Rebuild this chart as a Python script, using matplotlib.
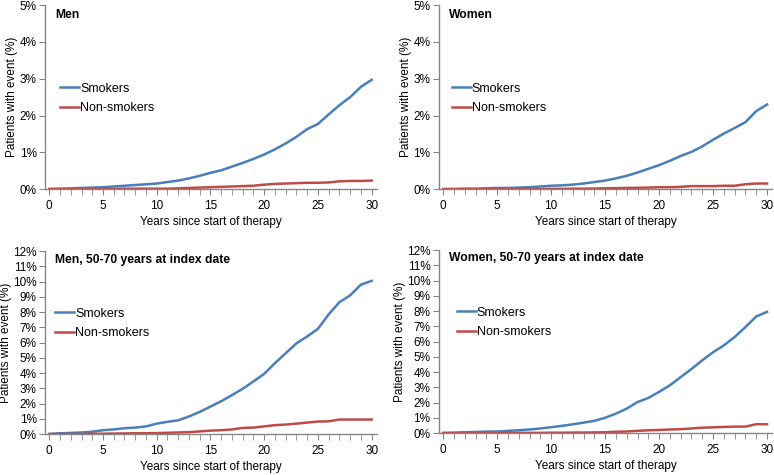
import matplotlib
matplotlib.use('Agg')
import matplotlib.pyplot as plt
from matplotlib.ticker import MultipleLocator, FuncFormatter
import numpy as np

plt.rcParams['font.family'] = ['Liberation Sans', 'DejaVu Sans']

years = list(range(31))

men_smokers = [0, 0.01, 0.02, 0.03, 0.04, 0.05, 0.07, 0.09, 0.11, 0.13, 0.15,
               0.19, 0.23, 0.29, 0.36, 0.44, 0.51, 0.61, 0.71, 0.82, 0.94,
               1.08, 1.24, 1.42, 1.63, 1.77, 2.03, 2.28, 2.50, 2.78, 2.97]
men_nonsmokers = [0, 0, 0, 0, 0, 0.005, 0.005, 0.01, 0.01, 0.01, 0.01,
                  0.01, 0.02, 0.03, 0.04, 0.05, 0.06, 0.07, 0.08, 0.09, 0.12,
                  0.14, 0.15, 0.16, 0.17, 0.17, 0.18, 0.21, 0.22, 0.22, 0.23]

women_smokers = [0, 0, 0.01, 0.01, 0.02, 0.03, 0.03, 0.04, 0.05, 0.07, 0.09,
                 0.10, 0.12, 0.15, 0.19, 0.23, 0.29, 0.36, 0.45, 0.55, 0.65,
                 0.77, 0.90, 1.01, 1.16, 1.34, 1.51, 1.66, 1.82, 2.12, 2.30]
women_nonsmokers = [0, 0, 0, 0, 0, 0, 0, 0, 0, 0, 0.005,
                    0.005, 0.01, 0.01, 0.015, 0.02, 0.025, 0.03, 0.035, 0.04, 0.05,
                    0.05, 0.06, 0.08, 0.08, 0.08, 0.09, 0.09, 0.13, 0.15, 0.15]

men5070_smokers = [0, 0.05, 0.07, 0.10, 0.15, 0.25, 0.30, 0.38, 0.42, 0.50, 0.68,
                   0.80, 0.90, 1.15, 1.45, 1.80, 2.15, 2.55, 2.97, 3.45, 3.95,
                   4.65, 5.30, 5.95, 6.40, 6.90, 7.85, 8.65, 9.10, 9.80, 10.05]
men5070_nonsmokers = [0, 0, 0, 0.01, 0.02, 0.02, 0.03, 0.04, 0.05, 0.05, 0.06,
                      0.08, 0.10, 0.12, 0.17, 0.22, 0.25, 0.30, 0.40, 0.42, 0.50,
                      0.58, 0.62, 0.68, 0.75, 0.82, 0.83, 0.95, 0.95, 0.95, 0.95]

women5070_smokers = [0, 0.02, 0.05, 0.07, 0.09, 0.10, 0.14, 0.18, 0.23, 0.30, 0.38,
                     0.47, 0.57, 0.68, 0.80, 1.00, 1.27, 1.60, 2.03, 2.30, 2.70,
                     3.13, 3.67, 4.20, 4.77, 5.30, 5.75, 6.30, 6.95, 7.65, 7.95]
women5070_nonsmokers = [0, 0, 0, 0, 0, 0, 0.01, 0.01, 0.01, 0.01, 0.02,
                        0.02, 0.03, 0.03, 0.04, 0.05, 0.08, 0.10, 0.14, 0.18, 0.20,
                        0.23, 0.25, 0.30, 0.35, 0.37, 0.40, 0.42, 0.42, 0.58, 0.57]

# title, smokers, non-smokers, y max, axes rect, title y, legend anchor
panels = [
    ('Men', men_smokers, men_nonsmokers, 5,
     [0.0581, 0.602, 0.429, 0.387], 0.945, (0.045, 0.578)),
    ('Women', women_smokers, women_nonsmokers, 5,
     [0.567, 0.602, 0.431, 0.387], 0.945, (0.039, 0.578)),
    ('Men, 50-70 years at index date', men5070_smokers, men5070_nonsmokers, 12,
     [0.0581, 0.0863, 0.429, 0.385], 0.95, (0.03, 0.69)),
    ('Women, 50-70 years at index date', women5070_smokers, women5070_nonsmokers, 12,
     [0.567, 0.0884, 0.431, 0.385], 0.955, (0.054, 0.69)),
]

blue = '#4a7ebb'
red = '#be4b48'
axis_grey = '#868686'

fig = plt.figure(figsize=(7.74, 4.75), dpi=100)

for title, smk, nonsmk, ymax, pos, title_y, leg_xy in panels:
    ax = fig.add_axes(pos)
    ax.plot(years, smk, color=blue, lw=1.8, label='Smokers')
    ax.plot(years, nonsmk, color=red, lw=1.8, label='Non-smokers')
    ax.set_xlim(-0.4, 30.5)
    ax.set_ylim(0, ymax)
    ax.xaxis.set_major_locator(MultipleLocator(5))
    ax.xaxis.set_minor_locator(MultipleLocator(1))
    ax.yaxis.set_major_locator(MultipleLocator(1))
    ax.yaxis.set_major_formatter(FuncFormatter(lambda v, p: '%d%%' % round(v)))
    for s in ['top', 'right']:
        ax.spines[s].set_visible(False)
    for s in ['left', 'bottom']:
        ax.spines[s].set_color(axis_grey)
        ax.spines[s].set_linewidth(1.0)
    ax.tick_params(axis='both', which='both', colors=axis_grey, labelcolor='black',
                   labelsize=8.5, direction='out')
    ax.tick_params(axis='x', which='major', length=4, pad=4)
    ax.tick_params(axis='x', which='minor', length=4)
    ax.tick_params(axis='y', which='major', length=4, pad=2)
    ax.set_xlabel('Years since start of therapy', fontsize=8.5, labelpad=3)
    ax.set_ylabel('Patients with event (%)', fontsize=8.5, labelpad=1)
    ax.text(0.03, title_y, title, transform=ax.transAxes, fontsize=8.7,
            fontweight='bold', va='center', ha='left')
    ax.legend(loc='upper left', bbox_to_anchor=leg_xy, frameon=False,
              fontsize=9, handlelength=1.5, handletextpad=0.1, borderpad=0,
              borderaxespad=0, labelspacing=0.6)

fig.savefig('out.png', dpi=100)
